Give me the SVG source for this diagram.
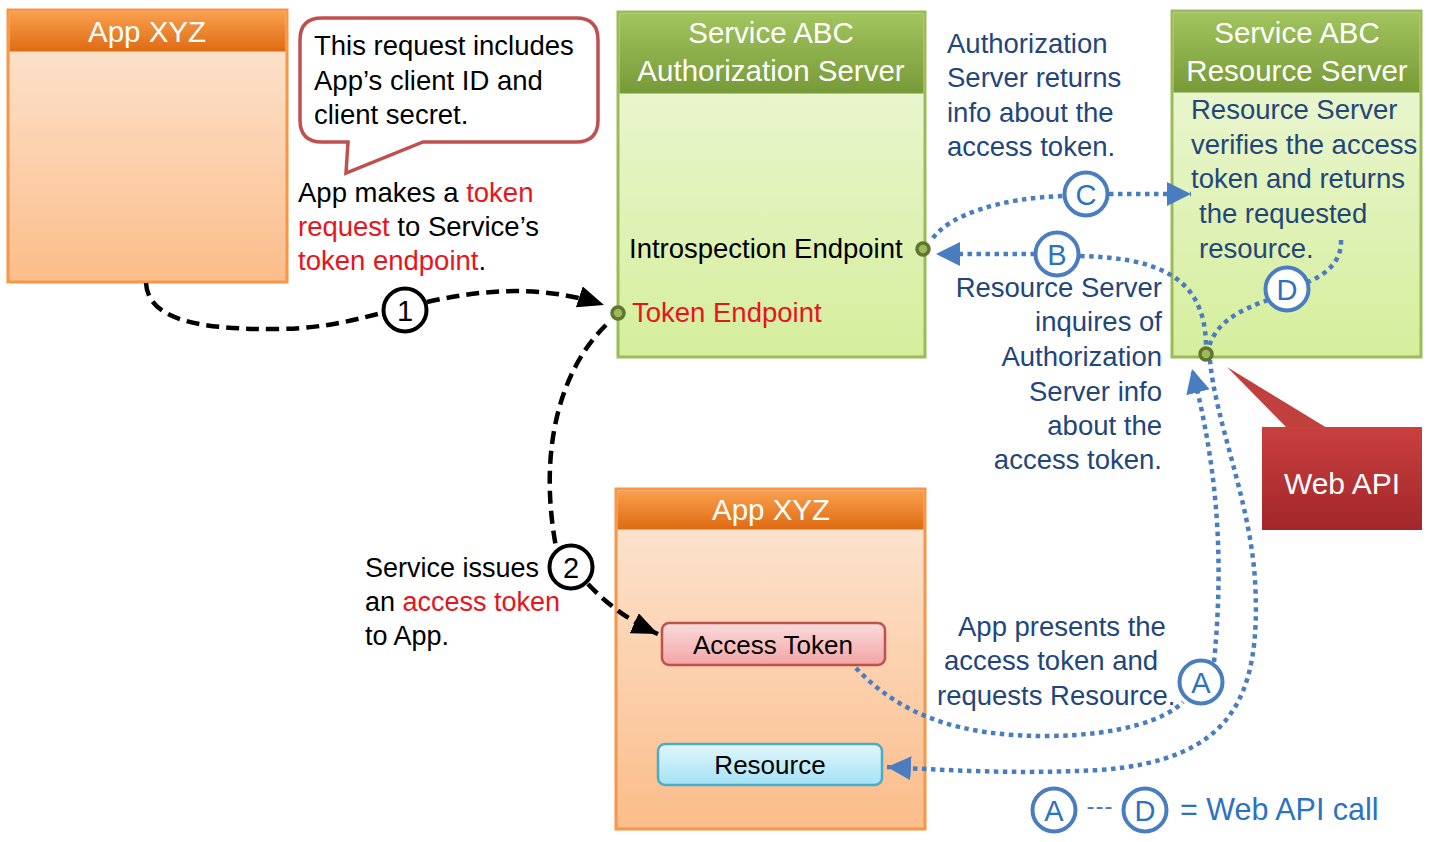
<svg xmlns="http://www.w3.org/2000/svg" width="1432" height="842" viewBox="0 0 1432 842">
<defs>
<linearGradient id="gOrHead" x1="0" y1="0" x2="0" y2="1"><stop offset="0" stop-color="#f9a04e"/><stop offset="1" stop-color="#df6a12"/></linearGradient>
<linearGradient id="gOrBody" x1="0" y1="0" x2="0" y2="1"><stop offset="0" stop-color="#fde7d5"/><stop offset="1" stop-color="#fbbd8a"/></linearGradient>
<linearGradient id="gGrHead" x1="0" y1="0" x2="0" y2="1"><stop offset="0" stop-color="#a2c45e"/><stop offset="1" stop-color="#779a38"/></linearGradient>
<linearGradient id="gGrBody" x1="0" y1="0" x2="0" y2="1"><stop offset="0" stop-color="#eff8dc"/><stop offset="1" stop-color="#d5ee9c"/></linearGradient>
<linearGradient id="gPink" x1="0" y1="0" x2="0" y2="1"><stop offset="0" stop-color="#fbdcdc"/><stop offset="1" stop-color="#f2a4a4"/></linearGradient>
<linearGradient id="gCyan" x1="0" y1="0" x2="0" y2="1"><stop offset="0" stop-color="#e2f6fc"/><stop offset="1" stop-color="#a3e2f5"/></linearGradient>
<linearGradient id="gRed" x1="0" y1="0" x2="0" y2="1"><stop offset="0" stop-color="#c9403e"/><stop offset="1" stop-color="#a2262a"/></linearGradient>
<marker id="aBlack" markerUnits="userSpaceOnUse" markerWidth="26" markerHeight="22" refX="26" refY="11" orient="auto"><path d="M0,0 L26,11 L0,22 Z" fill="#000"/></marker>
<marker id="aBlue" markerUnits="userSpaceOnUse" markerWidth="24" markerHeight="24" refX="24" refY="12" orient="auto"><path d="M0,0 L24,12 L0,24 Z" fill="#4a7dc0"/></marker>
</defs>
<style>
text{font-family:"Liberation Sans",Arial,sans-serif}
.title{fill:#fff;font-size:29.5px;text-anchor:middle}
.body{fill:#000;font-size:27.5px}
.red{fill:#e8141b}
.blue{fill:#23467a;font-size:27.5px}
.orhead{fill:url(#gOrHead)}
.orbody{fill:url(#gOrBody);stroke:#f79646;stroke-width:3}
.grhead{fill:url(#gGrHead)}
.grbody{fill:url(#gGrBody);stroke:#9bbb59;stroke-width:3}
.dash{fill:none;stroke:#000;stroke-width:4.5;stroke-dasharray:13 7}
.dot{fill:none;stroke:#4a7dc0;stroke-width:4.5;stroke-dasharray:4.5 4.5}
.ring{fill:#fff;stroke:#4a7dc0;stroke-width:4}
.bring{fill:#fff;stroke:#000;stroke-width:4}
.letter{fill:#2b72c2;font-size:29px;text-anchor:middle}
.digit{fill:#000;font-size:29px;text-anchor:middle}
.ep{fill:#9bbb59;stroke:#5f7530;stroke-width:3.5}
</style>

<g id="app-top">
<rect x="8" y="10" width="279" height="272" class="orbody"/>
<rect x="9.5" y="11.5" width="276" height="40" class="orhead"/>
<text x="147" y="42" class="title">App XYZ</text>
</g>

<g id="callout">
<path d="M322,18 H576 Q598,18 598,40 V120 Q598,142 576,142 H423 L346,173 L348,142 H322 Q300,142 300,120 V40 Q300,18 322,18 Z" fill="#fff" stroke="#c0504d" stroke-width="3.5"/>
<text class="body" x="314" y="55">This request includes</text>
<text class="body" x="314" y="90">App’s client ID and</text>
<text class="body" x="314" y="124">client secret.</text>
</g>

<g id="label-1">
<text class="body" x="298" y="202">App makes a <tspan class="red">token</tspan></text>
<text class="body" x="298" y="236"><tspan class="red">request</tspan> to Service’s</text>
<text class="body" x="298" y="270"><tspan class="red">token endpoint</tspan>.</text>
</g>

<g id="auth-server">
<rect x="618" y="12" width="307" height="345" class="grbody"/>
<rect x="619.5" y="13.5" width="304" height="80" class="grhead"/>
<text x="771" y="43" class="title">Service ABC</text>
<text x="771" y="81" class="title">Authorization Server</text>
<text class="body" x="629" y="258">Introspection Endpoint</text>
<text class="body red" x="632" y="322">Token Endpoint</text>
</g>

<g id="resource-server">
<rect x="1172" y="11" width="249" height="346" class="grbody"/>
<rect x="1173.5" y="12.5" width="246" height="80" class="grhead"/>
<text x="1297" y="43" class="title">Service ABC</text>
<text x="1297" y="81" class="title">Resource Server</text>
<text class="blue" x="1191" y="119">Resource Server</text>
<text class="blue" x="1191" y="154">verifies the access</text>
<text class="blue" x="1191" y="188">token and returns</text>
<text class="blue" x="1199" y="223">the requested</text>
<text class="blue" x="1199" y="258">resource.</text>
</g>

<g id="label-auth-returns">
<text class="blue" x="947" y="53">Authorization</text>
<text class="blue" x="947" y="87">Server returns</text>
<text class="blue" x="947" y="122">info about the</text>
<text class="blue" x="947" y="156">access token.</text>
</g>

<g id="label-inquires" text-anchor="end">
<text class="blue" x="1162" y="297">Resource Server</text>
<text class="blue" x="1162" y="331">inquires of</text>
<text class="blue" x="1162" y="366">Authorization</text>
<text class="blue" x="1162" y="401">Server info</text>
<text class="blue" x="1162" y="435">about the</text>
<text class="blue" x="1162" y="469">access token.</text>
</g>

<g id="web-api">
<path d="M1227,367 L1327,428 L1287,428 Z" fill="#c0403e"/>
<rect x="1262" y="427" width="160" height="103" fill="url(#gRed)"/>
<text x="1342" y="494" fill="#fff" font-size="30" text-anchor="middle">Web API</text>
</g>

<g id="app-bottom">
<rect x="616" y="489" width="309" height="340" class="orbody"/>
<rect x="617.5" y="490.5" width="306" height="39" class="orhead"/>
<text x="771" y="520" class="title">App XYZ</text>
</g>

<g id="access-token">
<rect x="662" y="623" width="223" height="42" rx="7" fill="url(#gPink)" stroke="#c0504d" stroke-width="2.5"/>
<text x="773" y="654" font-size="26" text-anchor="middle" fill="#000">Access Token</text>
</g>

<g id="resource">
<rect x="658" y="744" width="224" height="41" rx="7" fill="url(#gCyan)" stroke="#4bacc6" stroke-width="2.5"/>
<text x="770" y="774" font-size="26" text-anchor="middle" fill="#000">Resource</text>
</g>

<g id="label-2">
<text class="body" x="365" y="577" font-size="27px" style="font-size:27px">Service issues</text>
<text class="body" x="365" y="611" style="font-size:27px">an <tspan class="red">access token</tspan></text>
<text class="body" x="365" y="645" style="font-size:27px">to App.</text>
</g>

<g id="label-a">
<text class="blue" x="958" y="636">App presents the</text>
<text class="blue" x="944" y="670">access token and</text>
<text class="blue" x="937" y="705">requests Resource.</text>
</g>

<g id="connectors">
<path class="dash" d="M146,283 C148,320 200,330 280,329 C330,328 360,318 382,313"/>
<path class="dash" d="M427,302 C480,290 540,284 604,305" marker-end="url(#aBlack)"/>
<path class="dash" d="M606,325 C560,370 538,450 556,547"/>
<path class="dash" d="M588,584 Q618,616 658,634" marker-end="url(#aBlack)"/>

<path class="dot" d="M933,238 C950,215 1000,198 1063,196"/>
<path class="dot" d="M1109,194 L1191,194" marker-end="url(#aBlue)"/>
<path class="dot" d="M1035,254 L936,254" marker-end="url(#aBlue)"/>
<path class="dot" d="M1080,256 C1150,258 1205,272 1206,345"/>
<path class="dot" d="M1341,240 C1342,262 1325,275 1308,282"/>
<path class="dot" d="M1268,300 C1240,310 1215,322 1208,350"/>
<path class="dot" d="M856,668 C900,715 960,737 1050,736 C1120,735 1165,720 1183,702"/>
<path class="dot" d="M1214,662 C1224,560 1218,470 1192,369" marker-end="url(#aBlue)"/>
<path class="dot" d="M1210,360 C1215,420 1250,500 1255,580 C1262,700 1230,760 1100,770 C1020,774 960,771 887,767" marker-end="url(#aBlue)"/>
</g>

<g id="endpoints">
<circle cx="618" cy="313" r="6" class="ep"/>
<circle cx="923" cy="249" r="6" class="ep"/>
<circle cx="1206" cy="354" r="6" class="ep"/>
</g>

<g id="step-1"><circle cx="405" cy="310" r="21.5" class="bring"/><text x="405" y="320.5" class="digit">1</text></g>
<g id="step-2"><circle cx="571" cy="567" r="21.5" class="bring"/><text x="571" y="577.5" class="digit">2</text></g>
<g id="step-a"><circle cx="1201" cy="682" r="21.5" class="ring"/><text x="1201" y="692.5" class="letter">A</text></g>
<g id="step-b"><circle cx="1057" cy="254" r="21.5" class="ring"/><text x="1057" y="264.5" class="letter">B</text></g>
<g id="step-c"><circle cx="1086" cy="194" r="21.5" class="ring"/><text x="1086" y="204.5" class="letter">C</text></g>
<g id="step-d"><circle cx="1287" cy="289" r="21.5" class="ring"/><text x="1287" y="299.5" class="letter">D</text></g>

<g id="legend">
<circle cx="1054" cy="810" r="21.5" class="ring"/><text x="1054" y="820.5" class="letter">A</text>
<text x="1100" y="814" fill="#4a7dc0" font-size="24" letter-spacing="1" text-anchor="middle">---</text>
<circle cx="1145" cy="810" r="21.5" class="ring"/><text x="1145" y="820.5" class="letter">D</text>
<text x="1180" y="820" fill="#2b72c2" font-size="30.5">= Web API call</text>
</g>
</svg>
